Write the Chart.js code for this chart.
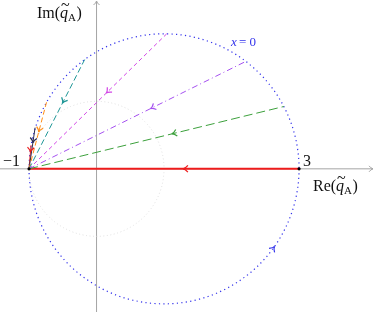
<!DOCTYPE html>
<html>
<head>
<meta charset="utf-8">
<script src="https://cdn.jsdelivr.net/npm/chart.js"></script>
<style>
    body { margin: 0; background: #fff; }
    canvas { display: block; }
</style>
</head>
<body>
<canvas id="plane" width="374" height="312"></canvas>
<script>
// end points of the rays that all start at q = -1
const startRe = -1, startIm = 0;
const endRe = [3, 2.774, 2.212, 1.04, -0.176, -0.741, -0.91, -0.97];
const endIm = [0, 0.923, 1.591, 2.0, 1.618, 0.985, 0.61, 0.35];
// contour x = 0 : circle, and the faint unit circle
const contourCenter = [1, 0], contourRadius = 2;
const unitCenter = [0, 0], unitRadius = 1;
const tickVals = [-1, 3];
const tickLabels = ['\u22121', '3'];

// styles of the rays
const rayStyle = [
    {c: 'rgb(238,28,28)', w: 2, dash: [], at: 0.57},
    {c: 'rgb(60,160,60)', w: 1, dash: [9, 4], at: 0.56},
    {c: 'rgb(165,80,240)', w: 1, dash: [6, 3, 1, 3], at: 0.56},
    {c: 'rgb(210,70,230)', w: 1, dash: [4, 3], at: 0.56},
    {c: 'rgb(30,150,150)', w: 1, dash: [6, 3], at: 0.6},
    {c: 'rgb(255,140,20)', w: 1, dash: [5, 3], at: 0.55},
    {c: 'rgb(45,45,80)', w: 1, dash: [], at: 0.63},
    {c: 'rgb(235,30,30)', w: 1, dash: [], at: 0.7}
];

const datasets = endRe.map((re, i) => ({
    data: [{x: startRe, y: startIm}, {x: re, y: endIm[i]}],
    showLine: true,
    borderColor: rayStyle[i].c,
    borderWidth: rayStyle[i].w,
    borderDash: rayStyle[i].dash,
    pointRadius: 0
}));
// draw the main red ray last so it sits on top
datasets.push(datasets.shift());
const order = [1, 2, 3, 4, 5, 6, 7, 0];

function chevron(ctx, x, y, ang, color) {
    // tip at (x,y), pointing along ang (canvas radians)
    const L = 6, a = 0.6;
    ctx.save();
    ctx.strokeStyle = color;
    ctx.lineWidth = 1.2;
    ctx.setLineDash([]);
    ctx.beginPath();
    ctx.moveTo(x - L * Math.cos(ang - a), y - L * Math.sin(ang - a));
    ctx.quadraticCurveTo(x - 2 * Math.cos(ang), y - 2 * Math.sin(ang), x, y);
    ctx.quadraticCurveTo(x - 2 * Math.cos(ang), y - 2 * Math.sin(ang), x - L * Math.cos(ang + a), y - L * Math.sin(ang + a));
    ctx.stroke();
    ctx.restore();
}

const backdrop = {
    id: 'backdrop',
    beforeDatasetsDraw(chart) {
        const ctx = chart.ctx, sx = chart.scales.x, sy = chart.scales.y;
        const ox = sx.getPixelForValue(0), oy = sy.getPixelForValue(0);
        const W = chart.width, H = chart.height;
        ctx.save();
        // axes
        ctx.strokeStyle = 'rgb(165,165,165)';
        ctx.lineWidth = 1;
        ctx.beginPath();
        ctx.moveTo(0, oy); ctx.lineTo(W - 1, oy);
        ctx.moveTo(ox, H); ctx.lineTo(ox, 1);
        ctx.stroke();
        ctx.beginPath();
        ctx.moveTo(W - 5, oy - 3); ctx.quadraticCurveTo(W - 3, oy - 0.5, W - 1, oy);
        ctx.quadraticCurveTo(W - 3, oy + 0.5, W - 5, oy + 3);
        ctx.moveTo(ox - 3, 5); ctx.quadraticCurveTo(ox - 0.5, 3, ox, 1);
        ctx.quadraticCurveTo(ox + 0.5, 3, ox + 3, 5);
        ctx.stroke();
        // faint unit circle
        const ucx = sx.getPixelForValue(unitCenter[0]), ucy = sy.getPixelForValue(unitCenter[1]);
        const ur = sx.getPixelForValue(unitRadius) - sx.getPixelForValue(0);
        ctx.strokeStyle = 'rgb(222,222,222)';
        ctx.setLineDash([1, 2.5]);
        ctx.beginPath(); ctx.arc(ucx, ucy, ur, 0, 2 * Math.PI); ctx.stroke();
        // contour x = 0
        const cx = sx.getPixelForValue(contourCenter[0]), cy = sy.getPixelForValue(contourCenter[1]);
        const r = sx.getPixelForValue(contourRadius) - sx.getPixelForValue(0);
        ctx.strokeStyle = 'rgb(50,50,235)';
        ctx.lineWidth = 1.2;
        ctx.setLineDash([1.2, 3.3]);
        ctx.beginPath(); ctx.arc(cx, cy, r, 0, 2 * Math.PI); ctx.stroke();
        ctx.restore();
        // arrow on the contour, counter-clockwise
        const t = -35 * Math.PI / 180;
        const px = cx + r * Math.cos(t), py = cy - r * Math.sin(t);
        chevron(ctx, px, py, Math.atan2(-Math.cos(t), -Math.sin(t)), 'rgb(50,50,235)');
    },
    afterDatasetsDraw(chart) {
        const ctx = chart.ctx, sx = chart.scales.x, sy = chart.scales.y;
        const x0 = sx.getPixelForValue(startRe), y0 = sy.getPixelForValue(startIm);
        endRe.forEach((re, i) => {
            const x1 = sx.getPixelForValue(re), y1 = sy.getPixelForValue(endIm[i]);
            const f = rayStyle[i].at;
            const px = x0 + (x1 - x0) * f, py = y0 + (y1 - y0) * f;
            chevron(ctx, px, py, Math.atan2(y0 - y1, x0 - x1), rayStyle[i].c);
        });
        // end dots
        ctx.save();
        ctx.fillStyle = '#000';
        tickVals.forEach(v => {
            ctx.beginPath();
            ctx.arc(sx.getPixelForValue(v), y0, 1.6, 0, 2 * Math.PI);
            ctx.fill();
        });
        // labels
        ctx.fillStyle = '#111';
        ctx.textBaseline = 'alphabetic';
        ctx.font = '16px "Liberation Serif"';
        ctx.textAlign = 'left';
        ctx.fillText(tickLabels[0], 3, 166);
        ctx.fillText(tickLabels[1], sx.getPixelForValue(tickVals[1]) + 4, 166);
        function qLabel(pre, x, y) {
            ctx.font = '16px "Liberation Serif"';
            ctx.fillText(pre + '(', x, y);
            x += ctx.measureText(pre + '(').width;
            ctx.font = 'italic 16px "Liberation Serif"';
            ctx.fillText('q', x, y);
            const qw = ctx.measureText('q').width;
            ctx.font = '16px "Liberation Serif"';
            ctx.fillText('~', x + 1, y - 8.5);
            x += qw;
            ctx.font = '11px "Liberation Serif"';
            ctx.fillText('A', x, y + 3);
            x += ctx.measureText('A').width + 0.5;
            ctx.font = '16px "Liberation Serif"';
            ctx.fillText(')', x, y);
        }
        qLabel('Im', 37, 18);
        qLabel('Re', 313, 191);
        ctx.fillStyle = 'rgb(50,50,235)';
        ctx.font = 'italic 13px "Liberation Serif"';
        ctx.fillText('x', 231, 46);
        ctx.font = '13px "Liberation Serif"';
        ctx.fillText('= 0', 239, 46);
        ctx.restore();
    }
};

new Chart(document.getElementById('plane'), {
    type: 'scatter',
    data: {datasets: datasets},
    options: {
        responsive: false,
        animation: false,
        devicePixelRatio: 1,
        layout: {padding: 0},
        plugins: {legend: {display: false}, tooltip: {enabled: false}},
        scales: {
            x: {type: 'linear', display: false, min: -1.43, max: 4.11},
            y: {type: 'linear', display: false, min: -2.12, max: 2.50}
        }
    },
    plugins: [backdrop]
});
</script>
</body>
</html>
